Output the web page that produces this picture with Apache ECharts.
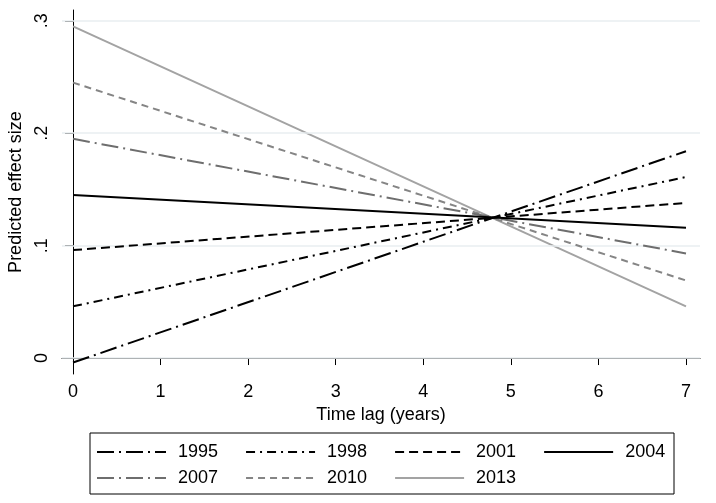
<!DOCTYPE html>
<html>
<head>
<meta charset="utf-8">
<script src="https://cdn.jsdelivr.net/npm/echarts@6/dist/echarts.min.js"></script>
<style>
html,body{margin:0;padding:0;background:#fff;}
#chart{width:716px;height:503px;}
</style>
</head>
<body>
<div id="chart"></div>
<script>
// Data
const years = ['1995', '1998', '2001', '2004', '2007', '2010', '2013'];
const lagPoints = [0, 7];
const valuesAtLag0 = [-0.004, 0.046, 0.096, 0.145, 0.195, 0.245, 0.295];
const valuesAtLag7 = [0.184, 0.161, 0.138, 0.116, 0.093, 0.069, 0.046];
const xTicks = [0, 1, 2, 3, 4, 5, 6, 7];
const yTicks = [0, 0.1, 0.2, 0.3];

const FONT = 'Liberation Sans, Arial, sans-serif';
const styles = {
  '1995': { color: '#000000', type: [17, 5, 2, 5] },
  '1998': { color: '#000000', type: [9, 5, 2, 5] },
  '2001': { color: '#000000', type: [9, 5] },
  '2004': { color: '#000000', type: 'solid' },
  '2007': { color: '#6e6e6e', type: [17, 5, 2, 5] },
  '2010': { color: '#858585', type: [7, 5] },
  '2013': { color: '#a3a3a3', type: 'solid' }
};

const series = [{
  type: 'line',
  name: 'grid',
  data: [],
  z: 1,
  silent: true,
  markLine: {
    silent: true,
    symbol: ['none', 'none'],
    label: { show: false },
    lineStyle: { color: '#e8eef0', width: 1.5, type: 'solid' },
    emphasis: { disabled: true },
    data: yTicks.map(v => ({ yAxis: v }))
  }
}];
years.forEach((y, i) => {
  series.push({
    type: 'line',
    name: y,
    z: 3 + (years.length - i),
    symbol: 'none',
    showSymbol: false,
    silent: true,
    animation: false,
    data: lagPoints.map((x, k) => [x, k === 0 ? valuesAtLag0[i] : valuesAtLag7[i]]),
    lineStyle: { color: styles[y].color, width: 2, type: styles[y].type },
    itemStyle: { color: styles[y].color }
  });
});

const legendCommon = {
  orient: 'horizontal',
  left: 96,
  padding: 0,
  itemWidth: 69,
  itemHeight: 14,
  itemGap: 27,
  selectedMode: false,
  itemStyle: { opacity: 0 },
  textStyle: { fontFamily: FONT, fontSize: 18, color: '#000', width: 40, padding: [0, 0, 0, 7], lineHeight: 20 }
};

const chart = echarts.init(document.getElementById('chart'), null, { renderer: 'canvas' });
chart.setOption({
  animation: false,
  backgroundColor: '#ffffff',
  grid: { left: 62, right: 16, top: 10, bottom: 129, containLabel: false, outerBoundsMode: 'none' },
  xAxis: {
    type: 'value',
    min: -0.126,
    max: 7.16,
    name: 'Time lag (years)',
    nameLocation: 'middle',
    nameGap: 28,
    nameTextStyle: { fontFamily: FONT, fontSize: 18, color: '#000' },
    axisLine: { show: true, lineStyle: { color: '#000', width: 1 } },
    axisTick: { show: true, length: 7, lineStyle: { color: '#000' }, customValues: xTicks },
    axisLabel: { customValues: xTicks, fontFamily: FONT, fontSize: 18, color: '#000', margin: 9 },
    splitLine: { show: false }
  },
  yAxis: {
    type: 'value',
    min: -0.0142,
    max: 0.3096,
    name: 'Predicted effect size',
    nameLocation: 'middle',
    nameGap: 27,
    nameTextStyle: { fontFamily: FONT, fontSize: 18, color: '#000' },
    axisLine: { show: true, lineStyle: { color: '#000', width: 1 } },
    axisTick: { show: true, length: 8, lineStyle: { color: '#000' }, customValues: yTicks },
    axisLabel: {
      customValues: yTicks,
      rotate: 90,
      fontFamily: FONT, fontSize: 18, color: '#000', margin: 11,
      formatter: v => (Math.abs(v) < 1e-9 ? '0' : String(+v.toFixed(2)).replace(/^0/, ''))
    },
    splitLine: { show: false }
  },
  legend: [
    Object.assign({}, legendCommon, { top: 442, data: years.slice(0, 4) }),
    Object.assign({}, legendCommon, { top: 468, data: years.slice(4) })
  ],
  graphic: [{
    type: 'rect',
    shape: { x: 90, y: 433, width: 584, height: 61 },
    style: { fill: 'none', stroke: '#000', lineWidth: 1 },
    silent: true
  }],
  series: series
});
</script>
</body>
</html>
